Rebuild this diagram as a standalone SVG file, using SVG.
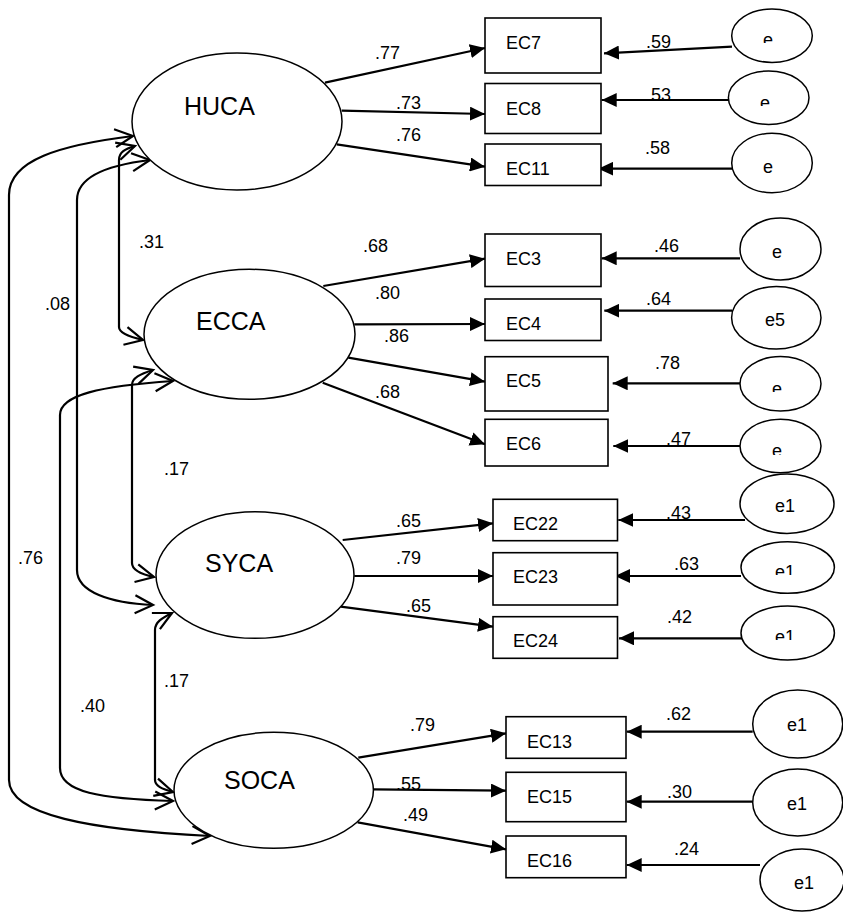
<svg xmlns="http://www.w3.org/2000/svg" width="843" height="912" viewBox="0 0 843 912">
  <style>
    .bg { fill: #ffffff; }
    .latent { fill: #ffffff; stroke: #000; stroke-width: 1.5; }
    .err { fill: #ffffff; stroke: #000; stroke-width: 1.5; }
    .box { fill: #ffffff; stroke: #000; stroke-width: 1.6; }
    .lt { font-family: "Liberation Sans", Arial, sans-serif; font-size: 25px; fill: #000; }
    .nt { font-family: "Liberation Sans", Arial, sans-serif; font-size: 18px; fill: #000; }
    .wt { font-family: "Liberation Sans", Arial, sans-serif; font-size: 18px; fill: #000; }
    .load { fill: none; stroke: #000; stroke-width: 2.2; marker-end: url(#solid); }
    .cov { fill: none; stroke: #000; stroke-width: 2.2; marker-start: url(#openS); marker-end: url(#open); }
  </style>
  <defs>
    <marker id="solid" markerUnits="userSpaceOnUse" markerWidth="16" markerHeight="14" refX="15" refY="7" orient="auto">
      <path d="M0,0 L15,7 L0,14 z" fill="#000"/>
    </marker>
    <marker id="open" markerUnits="userSpaceOnUse" markerWidth="24" markerHeight="24" refX="19" refY="10" orient="auto" style="overflow:visible">
      <path d="M1,1 L19,10 L1,19" fill="none" stroke="#000" stroke-width="2.2"/>
    </marker>
    <marker id="openS" markerUnits="userSpaceOnUse" markerWidth="24" markerHeight="24" refX="19" refY="10" orient="auto-start-reverse" style="overflow:visible">
      <path d="M1,1 L19,10 L1,19" fill="none" stroke="#000" stroke-width="2.2"/>
    </marker>
    <clipPath id="c1"><rect x="740" y="20" width="60" height="23"/></clipPath>
    <clipPath id="c2"><rect x="740" y="80" width="60" height="26"/></clipPath>
    <clipPath id="c5"><rect x="750" y="370" width="60" height="22"/></clipPath>
    <clipPath id="c6"><rect x="750" y="430" width="60" height="25"/></clipPath>
    <clipPath id="c23"><rect x="755" y="550" width="60" height="25"/></clipPath>
    <clipPath id="c24"><rect x="755" y="615" width="60" height="25"/></clipPath>
  </defs>

  <rect class="bg" x="0" y="0" width="843" height="912"/>

  <!-- covariances between latent factors -->
  <g id="covariances">
    <path class="cov" d="M133,136 C60,145 9,160 9,195 L9,780 C9,815 90,830 210,836"/>
    <path class="cov" d="M150,160 C100,166 77,180 77,200 L77,570 C77,592 110,603 153,605"/>
    <path class="cov" d="M135,146 C125,149 119,152 119,160 L119,327 C119,333 130,337 143,340"/>
    <path class="cov" d="M153,370 C140,374 132,378 132,385 L132,563 C132,570 140,574 154,577"/>
    <path class="cov" d="M173,381 C100,386 60,395 60,415 L60,768 C60,792 100,799 173,801"/>
    <path class="cov" d="M172,613 C162,618 155,622 155,630 L155,780 C155,786 162,789 173,792"/>
  </g>

  <!-- factor loadings and error paths -->
  <g id="connectors">
    <path class="load" d="M325,82.7 L485,48"/>
    <path class="load" d="M341.7,110.7 L485,114"/>
    <path class="load" d="M336.7,144.3 L485,166.7"/>
    <path class="load" d="M323.3,286 L485,258.7"/>
    <path class="load" d="M354.3,324.3 L485,324"/>
    <path class="load" d="M348.3,357.7 L485,381.7"/>
    <path class="load" d="M322.7,382.7 L485,444.3"/>
    <path class="load" d="M342.7,540 L493,523.3"/>
    <path class="load" d="M354.3,576 L493,576"/>
    <path class="load" d="M340.7,606.7 L493,626.7"/>
    <path class="load" d="M358.3,757.7 L506,733.3"/>
    <path class="load" d="M373.3,789.3 L506,790.7"/>
    <path class="load" d="M357.7,822.3 L506,849.3"/>

    <path class="load" d="M732,46.7 L604,53.3"/>
    <path class="load" d="M729,100 L601.7,100"/>
    <path class="load" d="M732,168.7 L598.3,168.7"/>
    <path class="load" d="M740,258.3 L601.7,258.3"/>
    <path class="load" d="M732,310.7 L604.3,310.7"/>
    <path class="load" d="M740,383.3 L612.7,383.3"/>
    <path class="load" d="M740,446 L613.3,446"/>
    <path class="load" d="M745,520 L618.3,520"/>
    <path class="load" d="M741,576 L615,576"/>
    <path class="load" d="M745,638.3 L619,638.3"/>
    <path class="load" d="M752.7,731.7 L626.7,731.7"/>
    <path class="load" d="M752.7,801.7 L626.7,801.7"/>
    <path class="load" d="M760,865 L626.7,865"/>
  </g>

  <!-- coefficient labels -->
  <g id="weights">
    <text class="wt" x="375" y="59">.77</text>
    <text class="wt" x="396" y="109">.73</text>
    <text class="wt" x="396" y="141">.76</text>
    <text class="wt" x="363" y="252">.68</text>
    <text class="wt" x="375" y="299">.80</text>
    <text class="wt" x="384" y="342">.86</text>
    <text class="wt" x="375" y="398">.68</text>
    <text class="wt" x="396" y="527">.65</text>
    <text class="wt" x="396" y="564">.79</text>
    <text class="wt" x="406" y="612">.65</text>
    <text class="wt" x="410" y="731">.79</text>
    <text class="wt" x="396" y="790">.55</text>
    <text class="wt" x="403" y="821">.49</text>

    <text class="wt" x="646" y="48">.59</text>
    <text class="wt" x="646" y="101">.53</text>
    <text class="wt" x="645" y="154">.58</text>
    <text class="wt" x="654" y="252">.46</text>
    <text class="wt" x="646" y="305">.64</text>
    <text class="wt" x="655" y="369">.78</text>
    <text class="wt" x="666" y="445">.47</text>
    <text class="wt" x="666" y="519">.43</text>
    <text class="wt" x="674" y="570">.63</text>
    <text class="wt" x="667" y="623">.42</text>
    <text class="wt" x="666" y="720">.62</text>
    <text class="wt" x="667" y="798">.30</text>
    <text class="wt" x="674" y="855">.24</text>

    <text class="wt" x="139" y="248">.31</text>
    <text class="wt" x="45" y="310">.08</text>
    <text class="wt" x="164" y="475">.17</text>
    <text class="wt" x="18" y="564">.76</text>
    <text class="wt" x="80" y="712">.40</text>
    <text class="wt" x="164" y="687">.17</text>
  </g>

  <!-- latent factors -->
  <g id="HUCA"><ellipse class="latent" cx="237" cy="121.5" rx="105" ry="68.5"/><text class="lt" x="184" y="115">HUCA</text></g>
  <g id="ECCA"><ellipse class="latent" cx="249.5" cy="334.3" rx="105.5" ry="65"/><text class="lt" x="196" y="330">ECCA</text></g>
  <g id="SYCA"><ellipse class="latent" cx="255" cy="575" rx="99" ry="63.3"/><text class="lt" x="205" y="572">SYCA</text></g>
  <g id="SOCA"><ellipse class="latent" cx="273.7" cy="790.3" rx="99.7" ry="58"/><text class="lt" x="224" y="789">SOCA</text></g>

  <!-- observed indicators -->
  <g id="EC7"><rect class="box" x="485" y="18" width="116" height="55"/><text class="nt" x="506" y="49">EC7</text></g>
  <g id="EC8"><rect class="box" x="485" y="83.5" width="116" height="50"/><text class="nt" x="506" y="115">EC8</text></g>
  <g id="EC11"><rect class="box" x="485" y="144" width="116" height="41.5"/><text class="nt" x="506" y="175">EC11</text></g>
  <g id="EC3"><rect class="box" x="485" y="234" width="116" height="52.5"/><text class="nt" x="506" y="265">EC3</text></g>
  <g id="EC4"><rect class="box" x="485" y="299" width="116" height="41.5"/><text class="nt" x="506" y="330">EC4</text></g>
  <g id="EC5"><rect class="box" x="485" y="356.7" width="123" height="54.3"/><text class="nt" x="506" y="387">EC5</text></g>
  <g id="EC6"><rect class="box" x="485" y="419.3" width="123" height="46.7"/><text class="nt" x="506" y="450">EC6</text></g>
  <g id="EC22"><rect class="box" x="493" y="499.3" width="124.5" height="41.4"/><text class="nt" x="513" y="530">EC22</text></g>
  <g id="EC23"><rect class="box" x="493" y="552.7" width="124.5" height="52.3"/><text class="nt" x="513" y="583">EC23</text></g>
  <g id="EC24"><rect class="box" x="493" y="616.7" width="124.5" height="41.6"/><text class="nt" x="513" y="647">EC24</text></g>
  <g id="EC13"><rect class="box" x="506" y="716.7" width="120" height="41.6"/><text class="nt" x="527" y="748">EC13</text></g>
  <g id="EC15"><rect class="box" x="506" y="772.3" width="120" height="49.4"/><text class="nt" x="527" y="803">EC15</text></g>
  <g id="EC16"><rect class="box" x="506" y="836" width="120" height="41.7"/><text class="nt" x="527" y="867">EC16</text></g>

  <!-- error terms -->
  <g id="e_EC7"><ellipse class="err" cx="772" cy="35.7" rx="40.3" ry="26.7"/><text class="nt" x="763" y="46" clip-path="url(#c1)">e</text></g>
  <g id="e_EC8"><ellipse class="err" cx="768.7" cy="97.7" rx="40.3" ry="26.7"/><text class="nt" x="760" y="109" clip-path="url(#c2)">e</text></g>
  <g id="e_EC11"><ellipse class="err" cx="772" cy="163" rx="40.3" ry="29.7"/><text class="nt" x="763" y="173">e</text></g>
  <g id="e_EC3"><ellipse class="err" cx="780.5" cy="249" rx="40.5" ry="31"/><text class="nt" x="772" y="258">e</text></g>
  <g id="e5"><ellipse class="err" cx="776.3" cy="317.8" rx="44.7" ry="31.2"/><text class="nt" x="765" y="326">e5</text></g>
  <g id="e_EC5"><ellipse class="err" cx="780.5" cy="383.8" rx="40.5" ry="27.2"/><text class="nt" x="772" y="395" clip-path="url(#c5)">e</text></g>
  <g id="e_EC6"><ellipse class="err" cx="780.5" cy="446" rx="40.5" ry="26.7"/><text class="nt" x="772" y="457" clip-path="url(#c6)">e</text></g>
  <g id="e_EC22"><ellipse class="err" cx="787" cy="503.7" rx="47" ry="29.7"/><text class="nt" x="775" y="512">e1</text></g>
  <g id="e_EC23"><ellipse class="err" cx="787.7" cy="567.5" rx="46.7" ry="25.8"/><text class="nt" x="775" y="578" clip-path="url(#c23)">e1</text></g>
  <g id="e_EC24"><ellipse class="err" cx="787.7" cy="633" rx="46.7" ry="27"/><text class="nt" x="775" y="643" clip-path="url(#c24)">e1</text></g>
  <g id="e_EC13"><ellipse class="err" cx="797.7" cy="724" rx="45" ry="34"/><text class="nt" x="787" y="731">e1</text></g>
  <g id="e_EC15"><ellipse class="err" cx="797.7" cy="802.5" rx="45" ry="33.5"/><text class="nt" x="787" y="810">e1</text></g>
  <g id="e_EC16"><ellipse class="err" cx="802" cy="880" rx="42" ry="31"/><text class="nt" x="794" y="889">e1</text></g>
</svg>
